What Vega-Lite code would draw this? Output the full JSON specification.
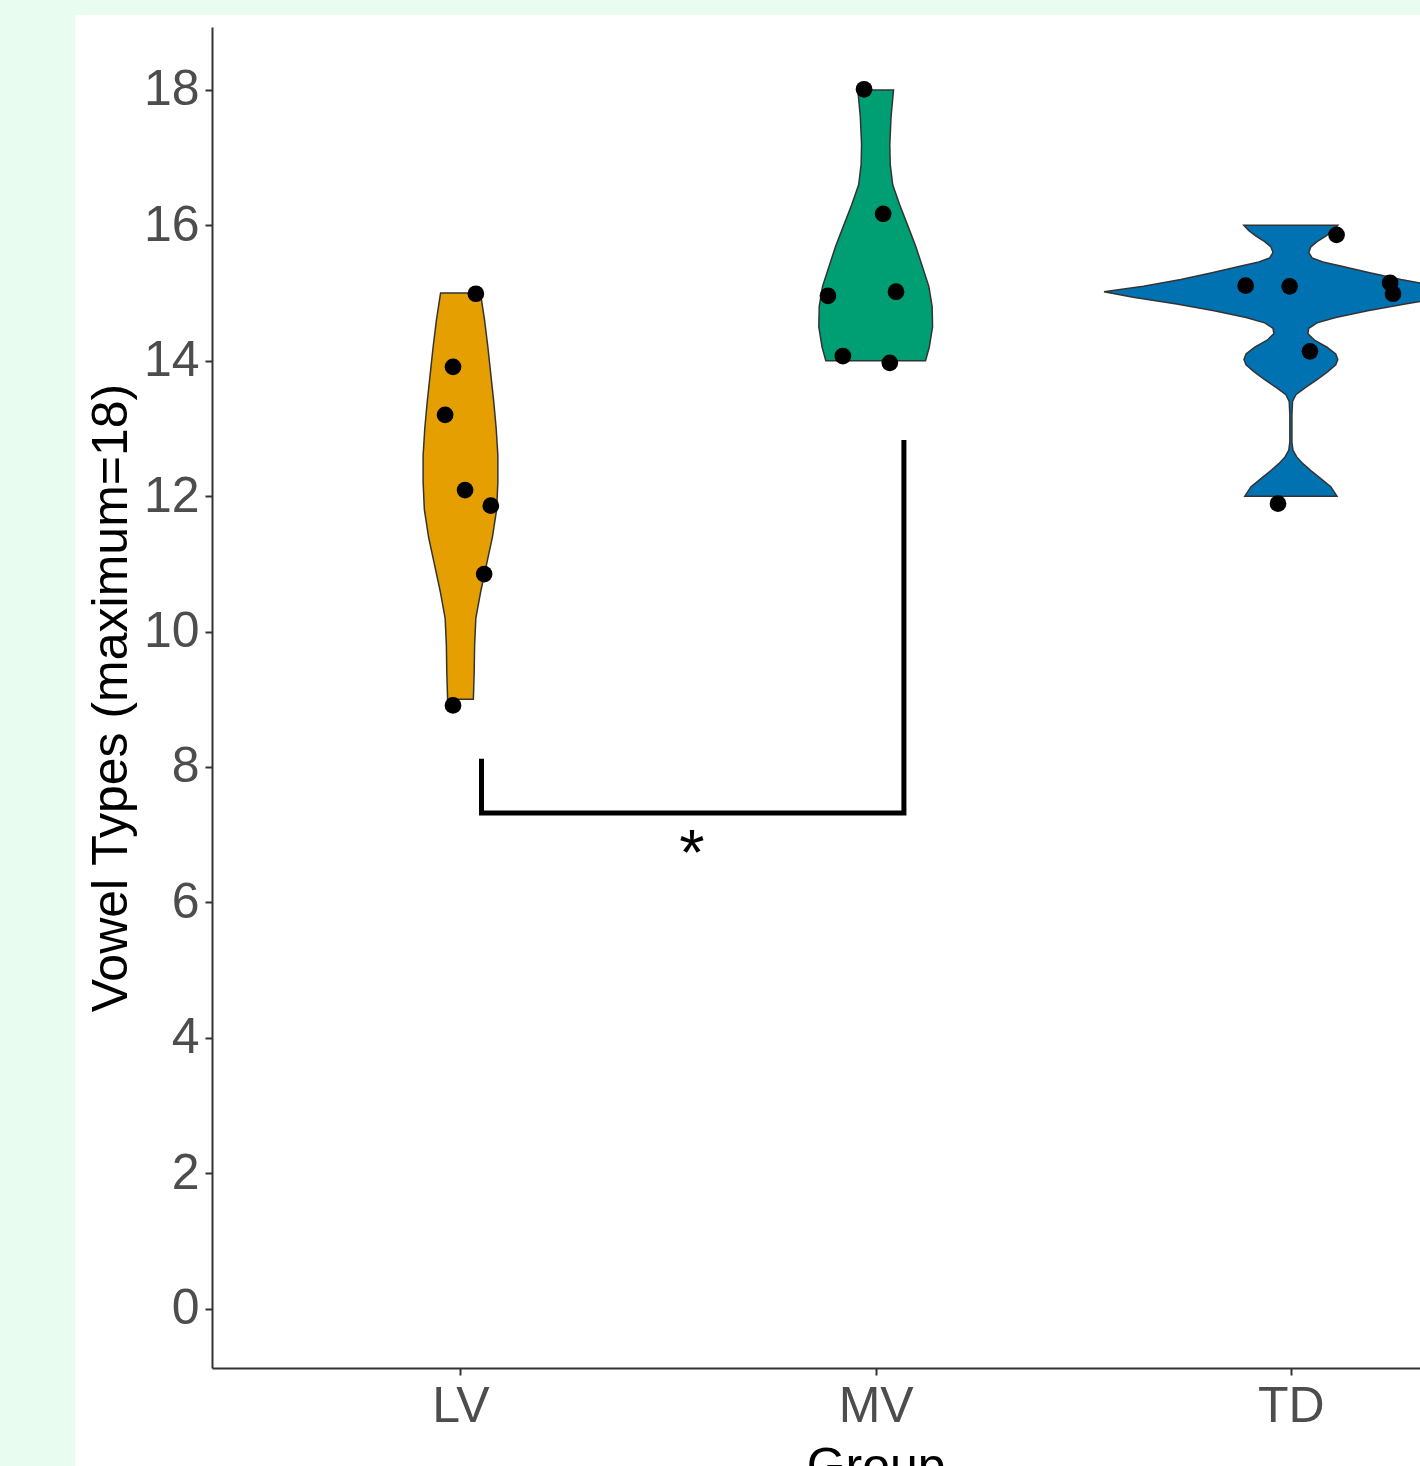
{
  "$schema": "https://vega.github.io/schema/vega-lite/v6.json",
  "width": 1208,
  "height": 1341,
  "autosize": {"type": "none"},
  "padding": {"left": 212, "top": 27, "right": 0, "bottom": 98},
  "background": "#E8FDEF",
  "config": {
    "font": "Liberation Sans",
    "view": {"stroke": null},
    "axis": {
      "grid": false,
      "tickSize": 7,
      "tickWidth": 2,
      "tickColor": "#333333",
      "domainColor": "#333333",
      "domainWidth": 2,
      "labelFont": "Liberation Sans",
      "labelFontSize": 50,
      "labelColor": "#4D4D4D",
      "labelFlush": false,
      "labelOverlap": false,
      "titleFont": "Liberation Sans",
      "titleFontSize": 50,
      "titleColor": "#000000",
      "titleFontWeight": "normal"
    },
    "axisX": {"labelPadding": 6, "titlePadding": 11},
    "axisY": {"labelPadding": 6, "titlePadding": 7}
  },
  "datasets": {
    "panel": [{"name": "panel"}],
    "violin": [
      {"group": "LV", "v": 15.0, "lo": 0.952, "hi": 1.048},
      {"group": "LV", "v": 14.6, "lo": 0.942, "hi": 1.058},
      {"group": "LV", "v": 14.2, "lo": 0.934, "hi": 1.066},
      {"group": "LV", "v": 13.8, "lo": 0.927, "hi": 1.073},
      {"group": "LV", "v": 13.4, "lo": 0.920, "hi": 1.080},
      {"group": "LV", "v": 13.0, "lo": 0.914, "hi": 1.086},
      {"group": "LV", "v": 12.6, "lo": 0.910, "hi": 1.090},
      {"group": "LV", "v": 12.2, "lo": 0.910, "hi": 1.090},
      {"group": "LV", "v": 11.8, "lo": 0.913, "hi": 1.087},
      {"group": "LV", "v": 11.4, "lo": 0.923, "hi": 1.077},
      {"group": "LV", "v": 11.0, "lo": 0.937, "hi": 1.063},
      {"group": "LV", "v": 10.6, "lo": 0.951, "hi": 1.049},
      {"group": "LV", "v": 10.2, "lo": 0.963, "hi": 1.037},
      {"group": "LV", "v": 9.8, "lo": 0.966, "hi": 1.034},
      {"group": "LV", "v": 9.4, "lo": 0.967, "hi": 1.033},
      {"group": "LV", "v": 9.0, "lo": 0.969, "hi": 1.031},
      {"group": "MV", "v": 18.0, "lo": 1.957, "hi": 2.043},
      {"group": "MV", "v": 17.6, "lo": 1.963, "hi": 2.037},
      {"group": "MV", "v": 17.2, "lo": 1.966, "hi": 2.034},
      {"group": "MV", "v": 16.9, "lo": 1.965, "hi": 2.035},
      {"group": "MV", "v": 16.6, "lo": 1.959, "hi": 2.041},
      {"group": "MV", "v": 16.3, "lo": 1.942, "hi": 2.058},
      {"group": "MV", "v": 16.0, "lo": 1.923, "hi": 2.077},
      {"group": "MV", "v": 15.7, "lo": 1.904, "hi": 2.096},
      {"group": "MV", "v": 15.4, "lo": 1.888, "hi": 2.112},
      {"group": "MV", "v": 15.1, "lo": 1.872, "hi": 2.128},
      {"group": "MV", "v": 14.8, "lo": 1.864, "hi": 2.136},
      {"group": "MV", "v": 14.5, "lo": 1.863, "hi": 2.137},
      {"group": "MV", "v": 14.2, "lo": 1.871, "hi": 2.129},
      {"group": "MV", "v": 14.0, "lo": 1.880, "hi": 2.120},
      {"group": "TD", "v": 16.00, "lo": 2.887, "hi": 3.113},
      {"group": "TD", "v": 15.92, "lo": 2.899, "hi": 3.101},
      {"group": "TD", "v": 15.84, "lo": 2.916, "hi": 3.084},
      {"group": "TD", "v": 15.76, "lo": 2.937, "hi": 3.063},
      {"group": "TD", "v": 15.68, "lo": 2.952, "hi": 3.048},
      {"group": "TD", "v": 15.60, "lo": 2.957, "hi": 3.043},
      {"group": "TD", "v": 15.52, "lo": 2.949, "hi": 3.051},
      {"group": "TD", "v": 15.46, "lo": 2.923, "hi": 3.077},
      {"group": "TD", "v": 15.40, "lo": 2.880, "hi": 3.120},
      {"group": "TD", "v": 15.30, "lo": 2.810, "hi": 3.190},
      {"group": "TD", "v": 15.20, "lo": 2.735, "hi": 3.265},
      {"group": "TD", "v": 15.10, "lo": 2.645, "hi": 3.355},
      {"group": "TD", "v": 15.02, "lo": 2.550, "hi": 3.450},
      {"group": "TD", "v": 14.94, "lo": 2.620, "hi": 3.380},
      {"group": "TD", "v": 14.84, "lo": 2.725, "hi": 3.275},
      {"group": "TD", "v": 14.74, "lo": 2.815, "hi": 3.185},
      {"group": "TD", "v": 14.64, "lo": 2.892, "hi": 3.108},
      {"group": "TD", "v": 14.56, "lo": 2.937, "hi": 3.063},
      {"group": "TD", "v": 14.48, "lo": 2.957, "hi": 3.043},
      {"group": "TD", "v": 14.40, "lo": 2.959, "hi": 3.041},
      {"group": "TD", "v": 14.30, "lo": 2.942, "hi": 3.058},
      {"group": "TD", "v": 14.20, "lo": 2.913, "hi": 3.087},
      {"group": "TD", "v": 14.10, "lo": 2.892, "hi": 3.108},
      {"group": "TD", "v": 14.02, "lo": 2.887, "hi": 3.113},
      {"group": "TD", "v": 13.94, "lo": 2.892, "hi": 3.108},
      {"group": "TD", "v": 13.84, "lo": 2.911, "hi": 3.089},
      {"group": "TD", "v": 13.72, "lo": 2.937, "hi": 3.063},
      {"group": "TD", "v": 13.60, "lo": 2.966, "hi": 3.034},
      {"group": "TD", "v": 13.50, "lo": 2.988, "hi": 3.012},
      {"group": "TD", "v": 13.40, "lo": 2.996, "hi": 3.004},
      {"group": "TD", "v": 13.20, "lo": 2.9975, "hi": 3.0025},
      {"group": "TD", "v": 13.00, "lo": 2.9975, "hi": 3.0025},
      {"group": "TD", "v": 12.80, "lo": 2.9975, "hi": 3.0025},
      {"group": "TD", "v": 12.68, "lo": 2.995, "hi": 3.005},
      {"group": "TD", "v": 12.58, "lo": 2.986, "hi": 3.014},
      {"group": "TD", "v": 12.48, "lo": 2.971, "hi": 3.029},
      {"group": "TD", "v": 12.38, "lo": 2.952, "hi": 3.048},
      {"group": "TD", "v": 12.26, "lo": 2.928, "hi": 3.072},
      {"group": "TD", "v": 12.14, "lo": 2.904, "hi": 3.096},
      {"group": "TD", "v": 12.00, "lo": 2.889, "hi": 3.111}
    ],
    "points": [
      {"group": "LV", "g": 1.037, "v": 14.99},
      {"group": "LV", "g": 0.982, "v": 13.91},
      {"group": "LV", "g": 0.963, "v": 13.20},
      {"group": "LV", "g": 1.011, "v": 12.09},
      {"group": "LV", "g": 1.073, "v": 11.86},
      {"group": "LV", "g": 1.057, "v": 10.85},
      {"group": "LV", "g": 0.982, "v": 8.91},
      {"group": "MV", "g": 1.972, "v": 18.01},
      {"group": "MV", "g": 2.018, "v": 16.17},
      {"group": "MV", "g": 1.885, "v": 14.96},
      {"group": "MV", "g": 2.049, "v": 15.02},
      {"group": "MV", "g": 1.921, "v": 14.07},
      {"group": "MV", "g": 2.034, "v": 13.97},
      {"group": "TD", "g": 3.110, "v": 15.86},
      {"group": "TD", "g": 2.891, "v": 15.11},
      {"group": "TD", "g": 2.997, "v": 15.10},
      {"group": "TD", "g": 3.239, "v": 15.15},
      {"group": "TD", "g": 3.246, "v": 14.99},
      {"group": "TD", "g": 3.046, "v": 14.14},
      {"group": "TD", "g": 2.969, "v": 11.89}
    ],
    "bracket": [
      {"i": 1, "g": 1.0506, "v": 8.12},
      {"i": 2, "g": 1.0506, "v": 7.32},
      {"i": 3, "g": 2.068, "v": 7.32},
      {"i": 4, "g": 2.068, "v": 12.83}
    ],
    "annot": [
      {"g": 1.5576, "v": 6.40, "label": "*"}
    ]
  },
  "layer": [
    {
      "data": {"name": "panel"},
      "mark": {"type": "rect", "clip": false, "color": "#FFFFFF", "opacity": 1},
      "encoding": {
        "x": {"datum": 0.0715, "type": "quantitative", "title": "Group", "scale": {"domain": [0.4015, 3.311], "nice": false, "zero": false},
              "axis": {"zindex": 1, "values": [1, 2, 3], "labelExpr": "datum.value == 1 ? 'LV' : datum.value == 2 ? 'MV' : 'TD'", "titleX": 663.7}},
        "x2": {"datum": 5},
        "y": {"datum": 19.107, "type": "quantitative", "title": "Vowel Types (maximum=18)", "scale": {"domain": [-0.877, 18.93], "nice": false, "zero": false},
              "axis": {"zindex": 1, "values": [0, 2, 4, 6, 8, 10, 12, 14, 16, 18], "format": "d"}},
        "y2": {"datum": -5}
      }
    },
    {
      "data": {"name": "violin"},
      "mark": {"type": "area", "orient": "horizontal", "clip": true, "stroke": "#333333", "strokeWidth": 1.5, "fillOpacity": 1},
      "encoding": {
        "y": {"field": "v", "type": "quantitative", "title": "Vowel Types (maximum=18)",
              "scale": {"domain": [-0.877, 18.93], "nice": false, "zero": false},
              "axis": {"zindex": 1, "values": [0, 2, 4, 6, 8, 10, 12, 14, 16, 18], "format": "d"}},
        "x": {"field": "lo", "type": "quantitative", "stack": null, "title": "Group",
              "scale": {"domain": [0.4015, 3.311], "nice": false, "zero": false},
              "axis": {"zindex": 1, "values": [1, 2, 3], "labelExpr": "datum.value == 1 ? 'LV' : datum.value == 2 ? 'MV' : 'TD'", "titleX": 663.7}},
        "x2": {"field": "hi"},
        "color": {"field": "group", "type": "nominal", "legend": null,
                  "scale": {"domain": ["LV", "MV", "TD"], "range": ["#E69F00", "#009E73", "#0072B2"]}}
      }
    },
    {
      "data": {"name": "points"},
      "mark": {"type": "circle", "clip": true, "size": 280, "color": "#000000", "opacity": 1},
      "encoding": {
        "x": {"field": "g", "type": "quantitative", "title": "Group", "scale": {"domain": [0.4015, 3.311], "nice": false, "zero": false}},
        "y": {"field": "v", "type": "quantitative", "title": "Vowel Types (maximum=18)", "scale": {"domain": [-0.877, 18.93], "nice": false, "zero": false}}
      }
    },
    {
      "data": {"name": "bracket"},
      "mark": {"type": "line", "color": "#000000", "strokeWidth": 5, "strokeJoin": "miter", "strokeCap": "butt"},
      "encoding": {
        "x": {"field": "g", "type": "quantitative", "title": "Group", "scale": {"domain": [0.4015, 3.311], "nice": false, "zero": false}},
        "y": {"field": "v", "type": "quantitative", "title": "Vowel Types (maximum=18)", "scale": {"domain": [-0.877, 18.93], "nice": false, "zero": false}},
        "order": {"field": "i", "type": "quantitative"}
      }
    },
    {
      "data": {"name": "annot"},
      "mark": {"type": "text", "font": "Liberation Sans", "fontSize": 65, "align": "center", "baseline": "alphabetic", "color": "#000000"},
      "encoding": {
        "x": {"field": "g", "type": "quantitative", "title": "Group", "scale": {"domain": [0.4015, 3.311], "nice": false, "zero": false}},
        "y": {"field": "v", "type": "quantitative", "title": "Vowel Types (maximum=18)", "scale": {"domain": [-0.877, 18.93], "nice": false, "zero": false}},
        "text": {"field": "label"}
      }
    }
  ]
}
